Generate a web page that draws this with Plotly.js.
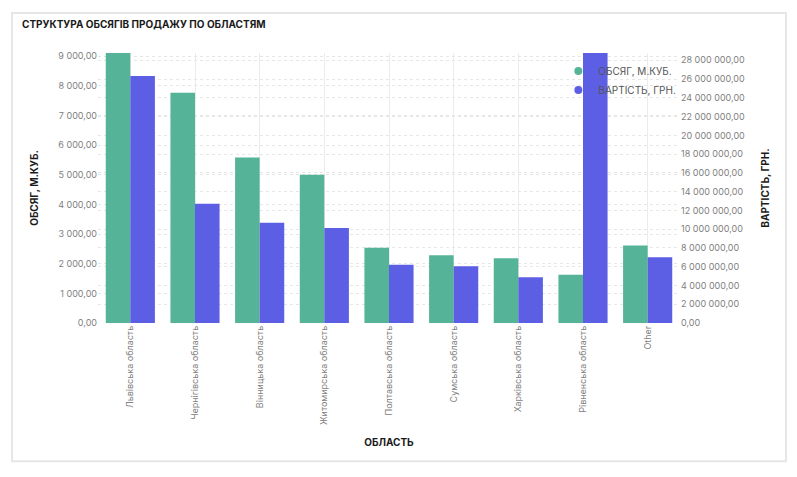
<!DOCTYPE html>
<html>
<head>
<meta charset="utf-8">
<script src="https://cdn.plot.ly/plotly-3.0.1.min.js"></script>
<style>
html,body{margin:0;padding:0;background:#fff;}
#chart{width:797px;height:477px;}
</style>
</head>
<body>
<div id="chart"></div>
<script>
const categories = ["Львівська область","Чернігівська область","Вінницька область","Житомирська область","Полтавська область","Сумська область","Харківська область","Рівненська область","Other"];
const volume = [9110, 7767, 5582, 5000, 2535, 2287, 2186, 1627, 2613];
const cost = [26330000, 12700000, 10690000, 10130000, 6200000, 6050000, 4880000, 30000000, 7000000];
const volumeName = "ОБСЯГ, М.КУБ.";
const costName = "ВАРТІСТЬ, ГРН.";
const chartTitle = "СТРУКТУРА ОБСЯГІВ ПРОДАЖУ ПО ОБЛАСТЯМ";
const xTitle = "ОБЛАСТЬ";

const green = "#55b498";
const blue = "#5c5fe4";
const FONT = "Inter, 'Noto Sans', sans-serif";

const traces = [
  {type:"bar", x:categories, y:volume, name:volumeName, marker:{color:green}, width:0.38, offset:-0.38, yaxis:"y", showlegend:false, hoverinfo:"y"},
  {type:"bar", x:categories, y:cost, name:costName, marker:{color:blue}, width:0.38, offset:0, yaxis:"y2", showlegend:false, hoverinfo:"y"},
  {type:"scatter", mode:"markers", x:[null], y:[null], name:volumeName, marker:{color:green, size:8, symbol:"circle"}, showlegend:true},
  {type:"scatter", mode:"markers", x:[null], y:[null], name:costName, marker:{color:blue, size:8, symbol:"circle"}, showlegend:true, yaxis:"y2"}
];

const layout = {
  width:797, height:477,
  paper_bgcolor:"#ffffff", plot_bgcolor:"#ffffff",
  font:{family:FONT, size:9, color:"#808080"},
  separators:", ",
  margin:{l:98, r:117, t:53, b:153.5, pad:0},
  title:{text:chartTitle, x:22/797, xanchor:"left", xref:"container", y:1-24/477, yanchor:"middle", yref:"container",
         font:{family:FONT, size:10, color:"#1a1a1a", weight:700}},
  barmode:"overlay",
  xaxis:{type:"category", tickangle:-90, showgrid:true, gridcolor:"#ececec", gridwidth:1, ticks:"", showline:false, zeroline:false,
         tickfont:{size:9, color:"#808080"},
         title:{text:xTitle, standoff:14, font:{family:FONT, size:10, color:"#1a1a1a", weight:700}}, automargin:false},
  yaxis:{range:[0,9110], dtick:1000, tickformat:",.2f", showgrid:true, gridcolor:"#e6e6e6", griddash:"dot", zeroline:false, showline:false, ticks:"",
         tickfont:{size:9, color:"#808080"},
         title:{text:volumeName, standoff:17, font:{family:FONT, size:10, color:"#1a1a1a", weight:700}}, automargin:false},
  yaxis2:{range:[0,28780000], dtick:2000000, tickformat:",.2f", overlaying:"y", side:"right", showgrid:true, gridcolor:"#e6e6e6", griddash:"dot", zeroline:false, showline:false, ticks:"",
         tickfont:{size:9, color:"#808080"},
         title:{text:costName, standoff:17, font:{family:FONT, size:10, color:"#1a1a1a", weight:700}}, automargin:false},
  legend:{x:0.791, xanchor:"left", y:0.987, yanchor:"top", bgcolor:"rgba(0,0,0,0)", font:{size:10, color:"#555555"}, tracegroupgap:0, itemwidth:30},
  shapes:[
    {type:"rect", xref:"paper", yref:"paper", layer:"below",
     x0:-86/582, x1:(786-98)/582, y0:-(462-323.5)/270.5, y1:1+(53-13)/270.5,
     line:{color:"#e6e6e6", width:2}, fillcolor:"rgba(0,0,0,0)"}
  ]
};

Plotly.newPlot("chart", traces, layout, {displayModeBar:false, staticPlot:true});
</script>
</body>
</html>
